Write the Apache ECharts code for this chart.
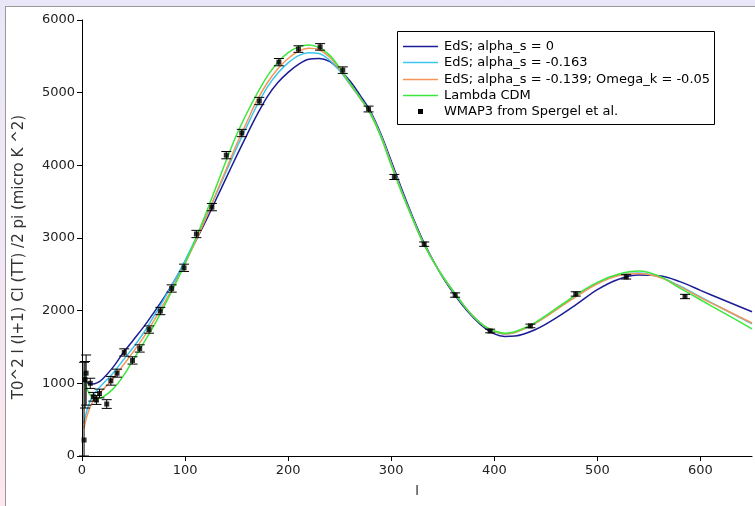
<!DOCTYPE html>
<html>
<head>
<meta charset="utf-8">
<script src="https://cdn.jsdelivr.net/npm/echarts@6/dist/echarts.min.js"></script>
<style>
html, body { margin:0; padding:0; width:755px; height:506px; overflow:hidden;
  background: linear-gradient(to bottom, #e9e7f7 0%, #f3e7f3 60%, #fce7ec 100%); }
#panel { position:absolute; left:5px; top:6px; width:750px; height:500px; background:#fff;
  border-left:1px solid #9a9a9a; border-top:1px solid #9a9a9a; box-sizing:border-box; }
#chart { position:absolute; left:0; top:0; width:755px; height:506px; }
</style>
</head>
<body>
<div id="panel"></div>
<div id="chart"></div>
<script>
// multipole l values at which the model curves are sampled
const ells = [2,5,10,15,20,30,40,50,60,70,80,90,100,110,120,130,140,150,160,170,180,190,200,210,220,230,240,250,260,270,280,290,300,310,320,330,340,350,360,370,380,390,400,410,420,440,460,480,500,520,540,560,580,600,620,650];

const edsAlpha0 = [1080,1010,990,1010,1060,1220,1420,1600,1780,1980,2190,2420,2680,2950,3230,3530,3830,4130,4420,4700,4950,5140,5280,5390,5460,5470,5430,5310,5160,4960,4740,4430,4060,3680,3320,2990,2710,2460,2250,2060,1900,1770,1680,1645,1650,1740,1900,2090,2290,2430,2490,2480,2400,2280,2160,1985];

const edsAlpha163 = [450,640,820,910,990,1140,1320,1500,1700,1930,2170,2420,2690,2980,3280,3600,3920,4240,4540,4830,5080,5270,5410,5510,5550,5540,5450,5300,5110,4920,4720,4410,4030,3650,3300,2970,2700,2470,2270,2080,1915,1790,1715,1680,1700,1830,2015,2210,2380,2490,2520,2465,2340,2190,2040,1820];

const edsAlpha139Ok = [380,560,740,830,910,1060,1250,1440,1640,1870,2110,2370,2650,2950,3270,3610,3950,4290,4600,4900,5140,5330,5470,5570,5610,5590,5490,5320,5120,4920,4710,4400,4020,3640,3290,2960,2700,2470,2270,2080,1915,1790,1715,1680,1700,1830,2010,2200,2370,2480,2510,2460,2330,2180,2040,1830];

const lambdaCDM = [1150,920,810,790,810,920,1100,1330,1560,1800,2070,2350,2650,2980,3330,3700,4070,4420,4720,4990,5230,5420,5550,5630,5655,5620,5520,5340,5130,4930,4700,4390,4000,3630,3290,2960,2700,2470,2270,2080,1915,1790,1720,1690,1710,1840,2030,2225,2390,2500,2545,2475,2310,2150,1990,1750];

// WMAP3 binned points (Spergel et al.)
const wmapL    = [2,3,4,8,11,14,17,24,28,34,41,49,56,65,76,87,99,111,126,140,155,172,191,210,231,253,278,303,332,362,396,435,479,528,585];
const wmapV    = [220,1050,1140,1000,815,770,860,715,1035,1140,1425,1315,1480,1740,1995,2305,2590,3055,3425,4140,4445,4885,5420,5600,5630,5310,4775,3840,2915,2215,1720,1790,2230,2465,2195];
const wmapLow  = [0,660,700,930,755,710,800,655,975,1085,1375,1265,1430,1690,1945,2255,2540,3005,3375,4090,4395,4835,5370,5555,5585,5265,4735,3805,2885,2185,1695,1765,2200,2435,2165];
const wmapHigh = [1290,1300,1390,1070,875,830,920,775,1095,1195,1475,1365,1530,1790,2045,2355,2640,3105,3475,4190,4495,4935,5470,5645,5675,5355,4815,3875,2945,2245,1745,1815,2260,2495,2225];

const seriesNames = ['EdS; alpha_s = 0', 'EdS; alpha_s = -0.163', 'EdS; alpha_s = -0.139; Omega_k = -0.05', 'Lambda CDM', 'WMAP3 from Spergel et al.'];
const seriesColors = ['#1c1c96', '#3cc6ee', '#f5955a', '#3ce83c', '#000000'];
const xTicks = [0,100,200,300,400,500,600];
const yTicks = [0,1000,2000,3000,4000,5000,6000];

const FONT = 'DejaVu Sans';
const chart = echarts.init(document.getElementById('chart'), null, {renderer:'canvas'});

const curves = [edsAlpha0, edsAlpha163, edsAlpha139Ok, lambdaCDM];
const lineSeries = curves.map((arr, k) => ({
  name: seriesNames[k],
  type: 'line',
  data: ells.map((l, i) => [l, arr[i]]),
  smooth: 0.35,
  symbol: 'none',
  lineStyle: { color: seriesColors[k], width: 1.5 },
  z: 2 + k,
  animation: false
}));

const legendRows = [46, 62, 79, 95, 111];
const legendGraphics = [
  { type:'rect', shape:{ x:397.5, y:31.5, width:317, height:93 }, style:{ fill:'#fff', stroke:'#000', lineWidth:1 }, z:100 }
];
seriesNames.forEach((nm, k) => {
  const y = legendRows[k];
  if (k < 4) {
    legendGraphics.push({ type:'line', shape:{ x1:403, y1:y+0.5, x2:438, y2:y+0.5 }, style:{ stroke:seriesColors[k], lineWidth:1.5 }, z:101 });
  } else {
    legendGraphics.push({ type:'rect', shape:{ x:418, y:y-2, width:5, height:5 }, style:{ fill:'#000' }, z:101 });
  }
  legendGraphics.push({ type:'text', x:444, y:y+0.5, style:{ text:nm, font:'13px "' + FONT + '"', fill:'#000', verticalAlign:'middle', align:'left' }, z:101 });
});

chart.setOption({
  animation: false,
  backgroundColor: 'transparent',
  textStyle: { fontFamily: FONT },
  grid: { left: 82, right: 3, top: 20, bottom: 50, containLabel: false },
  xAxis: {
    type: 'value', min: 0, max: 650, interval: 100,
    name: 'l', nameLocation: 'middle', nameGap: 29,
    nameTextStyle: { fontFamily: FONT, fontSize: 13, color: '#222' },
    axisLine: { show: true, lineStyle: { color: '#000', width: 1 } },
    axisTick: { show: true, length: 5, lineStyle: { color: '#000' }, customValues: xTicks },
    axisLabel: { fontFamily: FONT, fontSize: 13, color: '#222', margin: 8, customValues: xTicks, formatter: v => String(v) },
    splitLine: { show: false }
  },
  yAxis: {
    type: 'value', min: 0, max: 6000, interval: 1000,
    name: 'T0^2 l (l+1) Cl (TT) /2 pi (micro K ^2)', nameLocation: 'middle', nameGap: 55, nameRotate: 90,
    nameTextStyle: { fontFamily: FONT, fontSize: 15, color: '#333', padding: [0, 38, 0, 0] },
    axisLine: { show: true, onZero: false, lineStyle: { color: '#000', width: 1 } },
    axisTick: { show: true, length: 5, lineStyle: { color: '#000' }, customValues: yTicks },
    axisLabel: { fontFamily: FONT, fontSize: 13, color: '#222', margin: 7, customValues: yTicks, formatter: v => String(v) },
    splitLine: { show: false }
  },
  graphic: legendGraphics,
  series: [
    ...lineSeries,
    {
      name: 'errors',
      type: 'custom',
      data: wmapL.map((l, i) => [l, wmapLow[i], wmapHigh[i]]),
      encode: { x: 0, y: [1, 2] },
      z: 10,
      renderItem: function (params, api) {
        const x = api.value(0);
        const pLo = api.coord([x, api.value(1)]);
        const pHi = api.coord([x, api.value(2)]);
        const hw = 5;
        const st = { stroke: '#000', lineWidth: 1 };
        return { type: 'group', children: [
          { type: 'line', shape: { x1: pLo[0], y1: pLo[1], x2: pHi[0], y2: pHi[1] }, style: st },
          { type: 'line', shape: { x1: pLo[0] - hw, y1: pLo[1], x2: pLo[0] + hw, y2: pLo[1] }, style: st },
          { type: 'line', shape: { x1: pHi[0] - hw, y1: pHi[1], x2: pHi[0] + hw, y2: pHi[1] }, style: st }
        ]};
      }
    },
    {
      name: seriesNames[4],
      type: 'scatter',
      data: wmapL.map((l, i) => [l, wmapV[i]]),
      symbol: 'rect',
      symbolSize: 5,
      itemStyle: { color: '#000' },
      z: 11
    }
  ]
});
</script>
</body>
</html>
